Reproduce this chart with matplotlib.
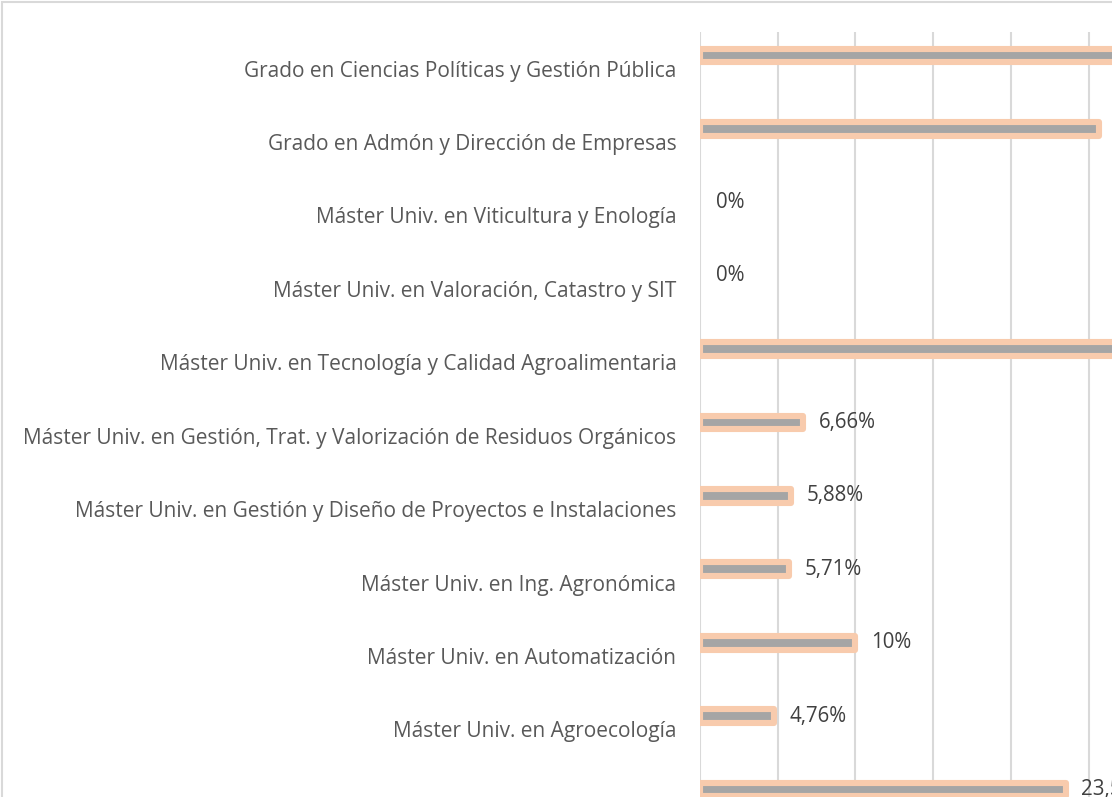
import matplotlib.pyplot as plt
from matplotlib.patches import Rectangle

plt.rcParams['font.family'] = ['Open Sans', 'DejaVu Sans']

# categories, top to bottom (last one is cut off in the picture)
categories = [
    'Grado en Ciencias Políticas y Gestión Pública',
    'Grado en Admón y Dirección de Empresas',
    'Máster Univ. en Viticultura y Enología',
    'Máster Univ. en Valoración, Catastro y SIT',
    'Máster Univ. en Tecnología y Calidad Agroalimentaria',
    'Máster Univ. en Gestión, Trat. y Valorización de Residuos Orgánicos',
    'Máster Univ. en Gestión y Diseño de Proyectos e Instalaciones',
    'Máster Univ. en Ing. Agronómica',
    'Máster Univ. en Automatización',
    'Máster Univ. en Agroecología',
    '',
]
values = [30.0, 25.7, 0, 0, 33.33, 6.66, 5.88, 5.71, 10, 4.76, 23.53]
value_labels = ['30%', '25,7%', '0%', '0%', '33,33%', '6,66%', '5,88%',
                '5,71%', '10%', '4,76%', '23,53%']

W, H = 1112, 797
fig = plt.figure(figsize=(W / 100, H / 100), dpi=100)

# plot area: x=0 at 700px, 15.54 px per percent, rows 73.4 px apart from y=32
row = 73.4
n = len(categories)
left, top = 700, 32
ax = fig.add_axes([left / W, 1 - (top + n * row) / H, (W - left) / W, n * row / H])
xmax = (W - left) / 15.54
ax.set_xlim(0, xmax)
ax.set_ylim(n - 0.5, -0.5)

pos = list(range(n))
bar_pos = [p - 0.18 for p in pos]
widths = [4.4 if v > 0 else 0 for v in values]
ax.barh(bar_pos, values, height=0.19, color='#A5A5A5', edgecolor='#F8CBAD',
        linewidth=widths, joinstyle='round', zorder=3)

# labels of bars running past the crop are not visible in the picture
for y, v, lab in zip(bar_pos, values, value_labels):
    if v + 1.0 < xmax - 1:
        ax.text(v + 1.0, y, lab, va='center', ha='left', fontsize=14.8,
                color='#404040', zorder=4)

ax.set_yticks(pos)
ax.set_yticklabels(categories, fontsize=15, color='#595959')
ax.tick_params(axis='y', length=0, pad=17)
ax.set_xticks([0, 5, 10, 15, 20, 25])
ax.tick_params(axis='x', length=0, labelbottom=False)
ax.grid(axis='x', color='#D9D9D9', linewidth=1.5, zorder=0)
ax.set_axisbelow(True)
for s in ax.spines.values():
    s.set_visible(False)

# chart area border (right and bottom fall outside the crop)
fig.patches.append(Rectangle((1.5 / W, -0.2), 1.5, 1.2 - 2 / H, fill=False,
                             edgecolor='#D9D9D9', linewidth=1.5,
                             transform=fig.transFigure, figure=fig))

plt.savefig('out.png', dpi=100)
